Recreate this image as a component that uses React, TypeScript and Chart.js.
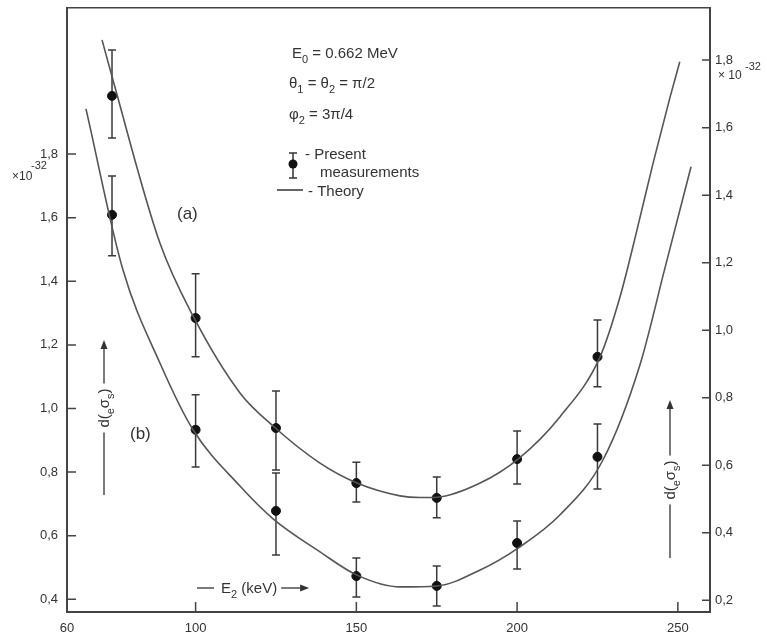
import React, { useEffect, useRef } from "react";
import { Chart, registerables } from "chart.js";
Chart.register(...registerables);

// ---- data ----
const xTicks = [60, 100, 150, 200, 250];
const leftTicks = [0.4, 0.6, 0.8, 1.0, 1.2, 1.4, 1.6, 1.8];
const rightTicks = [0.2, 0.4, 0.6, 0.8, 1.0, 1.2, 1.4, 1.6, 1.8];

const energies = [74, 100, 125, 150, 175, 200, 225];
// curve (a) – right-hand axis
const measA = [1.694, 1.036, 0.71, 0.547, 0.503, 0.618, 0.921];
const errHiA = [1.83, 1.167, 0.82, 0.609, 0.565, 0.701, 1.03];
const errLoA = [1.569, 0.921, 0.586, 0.491, 0.444, 0.544, 0.832];
// curve (b) – left-hand axis
const measB = [1.609, 0.933, 0.678, 0.473, 0.442, 0.577, 0.848];
const errHiB = [1.731, 1.043, 0.797, 0.53, 0.505, 0.646, 0.951];
const errLoB = [1.48, 0.816, 0.539, 0.407, 0.379, 0.495, 0.747];

// theory curves
const theoryAE = [70.9, 74.3, 88.9, 99.2, 113.8, 124.1, 138.7, 150.2, 163.6, 169.8, 175.1, 188.5, 200.3, 213.3, 225.8, 232.0, 237.3, 242.3, 247.6, 250.6];
const theoryAV = [1.86, 1.741, 1.258, 1.042, 0.814, 0.716, 0.606, 0.547, 0.509, 0.504, 0.505, 0.547, 0.618, 0.743, 0.921, 1.098, 1.297, 1.495, 1.691, 1.795];
const theoryBE = [65.9, 77.4, 88.9, 99.2, 113.8, 124.1, 138.7, 150.2, 163.6, 175.1, 188.5, 200.3, 213.3, 226.7, 238.2, 246.0, 254.1];
const theoryBV = [1.942, 1.436, 1.143, 0.933, 0.756, 0.653, 0.549, 0.476, 0.439, 0.442, 0.492, 0.561, 0.665, 0.838, 1.137, 1.442, 1.76];

const FONT = '"Liberation Sans", "DejaVu Sans", sans-serif';
const INK = "#333";

type Part = [string, number]; // 0 normal, 1 subscript, 2 superscript
function richWidth(ctx: CanvasRenderingContext2D, parts: Part[], size: number) {
  let w = 0;
  for (const [t, k] of parts) {
    ctx.font = `${k ? Math.round(size * 0.7) : size}px ${FONT}`;
    w += ctx.measureText(t).width;
  }
  return w;
}
function rich(ctx: CanvasRenderingContext2D, parts: Part[], x: number, y: number, size: number) {
  ctx.textAlign = "left";
  ctx.textBaseline = "alphabetic";
  let cx = x;
  for (const [t, k] of parts) {
    ctx.font = `${k ? Math.round(size * 0.7) : size}px ${FONT}`;
    const dy = k === 1 ? size * 0.3 : k === 2 ? -size * 0.45 : 0;
    ctx.fillText(t, cx, y + dy);
    cx += ctx.measureText(t).width;
  }
  return cx;
}
function arrowHead(ctx: CanvasRenderingContext2D, x: number, y: number, dir: "up" | "right") {
  ctx.beginPath();
  if (dir === "up") {
    ctx.moveTo(x, y);
    ctx.lineTo(x - 3.5, y + 9);
    ctx.lineTo(x + 3.5, y + 9);
  } else {
    ctx.moveTo(x, y);
    ctx.lineTo(x - 9, y - 3.5);
    ctx.lineTo(x - 9, y + 3.5);
  }
  ctx.closePath();
  ctx.fill();
}

const overlay = {
  id: "overlay",
  beforeDraw(chart: any) {
    const ctx = chart.ctx;
    ctx.save();
    ctx.fillStyle = "#fff";
    ctx.fillRect(0, 0, chart.width, chart.height);
    ctx.restore();
  },
  beforeDatasetsDraw(chart: any) {
    const ctx: CanvasRenderingContext2D = chart.ctx;
    const xs = chart.scales.x, yL = chart.scales.y, yR = chart.scales.y1;
    ctx.save();
    ctx.strokeStyle = "#3a3a3a";
    ctx.lineWidth = 1.5;
    const bar = (px: number, y1: number, y2: number) => {
      ctx.beginPath();
      ctx.moveTo(px, y1); ctx.lineTo(px, y2);
      ctx.moveTo(px - 4, y1); ctx.lineTo(px + 4, y1);
      ctx.moveTo(px - 4, y2); ctx.lineTo(px + 4, y2);
      ctx.stroke();
    };
    energies.forEach((e, i) => {
      const px = xs.getPixelForValue(e);
      bar(px, yR.getPixelForValue(errHiA[i]), yR.getPixelForValue(errLoA[i]));
      bar(px, yL.getPixelForValue(errHiB[i]), yL.getPixelForValue(errLoB[i]));
    });
    ctx.restore();
  },
  afterDraw(chart: any) {
    const ctx: CanvasRenderingContext2D = chart.ctx;
    const { left, right, top, bottom } = chart.chartArea;
    const xs = chart.scales.x, yL = chart.scales.y, yR = chart.scales.y1;
    ctx.save();
    ctx.strokeStyle = "#444";
    ctx.lineWidth = 1.5;
    // top frame line
    ctx.beginPath();
    ctx.moveTo(left, top); ctx.lineTo(right, top);
    ctx.stroke();
    // inward ticks
    ctx.beginPath();
    leftTicks.forEach(v => { const p = yL.getPixelForValue(v); ctx.moveTo(left, p); ctx.lineTo(left + 9, p); });
    rightTicks.forEach(v => { const p = yR.getPixelForValue(v); ctx.moveTo(right, p); ctx.lineTo(right - 8, p); });
    xTicks.slice(1).forEach(v => { const p = xs.getPixelForValue(v); ctx.moveTo(p, bottom); ctx.lineTo(p, bottom - 10); });
    ctx.stroke();

    ctx.fillStyle = INK;
    ctx.strokeStyle = INK;
    // multipliers
    rich(ctx, [["×10", 0]], 12, 180, 12);
    rich(ctx, [["-32", 0]], 31, 169, 11);
    rich(ctx, [["× 10", 0]], 718, 79, 12);
    rich(ctx, [["-32", 0]], 745, 70, 11);

    // legend block
    rich(ctx, [["E", 0], ["0", 1], [" = 0.662 MeV", 0]], 292, 58, 15);
    rich(ctx, [["θ", 0], ["1", 1], [" = θ", 0], ["2", 1], [" = π/2", 0]], 289, 88, 15);
    rich(ctx, [["φ", 0], ["2", 1], [" = 3π/4", 0]], 289, 119, 15);
    // error bar symbol
    ctx.lineWidth = 1.5;
    ctx.beginPath();
    ctx.moveTo(293, 153); ctx.lineTo(293, 178);
    ctx.moveTo(289, 153); ctx.lineTo(297, 153);
    ctx.moveTo(289, 178); ctx.lineTo(297, 178);
    ctx.stroke();
    ctx.beginPath(); ctx.arc(293, 164, 4.5, 0, Math.PI * 2); ctx.fillStyle = "#111"; ctx.fill();
    ctx.fillStyle = INK;
    rich(ctx, [["- Present", 0]], 305, 159, 15);
    rich(ctx, [["measurements", 0]], 320, 177, 15);
    ctx.beginPath(); ctx.moveTo(277, 190); ctx.lineTo(303, 190); ctx.stroke();
    rich(ctx, [["- Theory", 0]], 308, 196, 15);

    // curve labels
    rich(ctx, [["(a)", 0]], 177, 219, 17);
    rich(ctx, [["(b)", 0]], 130, 439, 17);

    // x-axis title
    ctx.lineWidth = 1.3;
    ctx.beginPath(); ctx.moveTo(197, 588); ctx.lineTo(214, 588); ctx.stroke();
    const ex = rich(ctx, [["E", 0], ["2", 1], [" (keV)", 0]], 221, 593, 15);
    ctx.beginPath(); ctx.moveTo(ex + 4, 588); ctx.lineTo(ex + 28, 588); ctx.stroke();
    arrowHead(ctx, ex + 32, 588, "right");

    // vertical titles
    const vTitle = (cx: number, yTip: number, yTextC: number, yBottom: number) => {
      const parts: Part[] = [["d(", 0], ["e", 1], ["σ", 0], ["s", 1], [")", 0]];
      const w = richWidth(ctx, parts, 15);
      ctx.save();
      ctx.translate(cx, yTextC);
      ctx.rotate(-Math.PI / 2);
      rich(ctx, parts, -w / 2, 5, 15);
      ctx.restore();
      ctx.beginPath();
      ctx.moveTo(cx, yTextC + w / 2 + 5); ctx.lineTo(cx, yBottom);
      ctx.moveTo(cx, yTextC - w / 2 - 5); ctx.lineTo(cx, yTip + 6);
      ctx.stroke();
      arrowHead(ctx, cx, yTip, "up");
    };
    vTitle(104, 340, 408, 495);
    vTitle(670, 400, 480, 558);
    ctx.restore();
  },
};

export default function App() {
  const ref = useRef<HTMLCanvasElement | null>(null);
  useEffect(() => {
    document.body.style.margin = "0";
    const canvas = ref.current!;
    const tickFont = { family: FONT, size: 13 };
    const chart = new Chart(canvas, {
      type: "scatter",
      data: {
        datasets: [
          {
            label: "Theory (a)",
            data: theoryAE.map((e, i) => ({ x: e, y: theoryAV[i] })),
            yAxisID: "y1",
            showLine: true,
            borderColor: "#555",
            borderWidth: 1.6,
            pointRadius: 0,
            cubicInterpolationMode: "monotone",
          },
          {
            label: "Theory (b)",
            data: theoryBE.map((e, i) => ({ x: e, y: theoryBV[i] })),
            yAxisID: "y",
            showLine: true,
            borderColor: "#555",
            borderWidth: 1.6,
            pointRadius: 0,
            cubicInterpolationMode: "monotone",
          },
          {
            label: "Present measurements (a)",
            data: energies.map((e, i) => ({ x: e, y: measA[i] })),
            yAxisID: "y1",
            pointRadius: 4.5,
            backgroundColor: "#111",
            borderColor: "#111",
          },
          {
            label: "Present measurements (b)",
            data: energies.map((e, i) => ({ x: e, y: measB[i] })),
            yAxisID: "y",
            pointRadius: 4.5,
            backgroundColor: "#111",
            borderColor: "#111",
          },
        ],
      },
      options: {
        animation: false,
        responsive: false,
        layout: { padding: { top: 0, left: 0, right: 0, bottom: 0 } },
        plugins: { legend: { display: false }, tooltip: { enabled: false } },
        scales: {
          x: {
            type: "linear",
            min: 60,
            max: 260,
            afterBuildTicks: (s: any) => { s.ticks = xTicks.map(v => ({ value: v })); },
            afterFit: (s: any) => { s.height = 27; },
            grid: { display: false, drawTicks: true, tickLength: 9 },
            border: { display: true, color: "#444", width: 2 },
            ticks: { font: tickFont, color: INK, padding: 0, callback: (v: any) => String(v) },
          },
          y: {
            type: "linear",
            position: "left",
            min: 0.36,
            max: 2.26,
            afterBuildTicks: (s: any) => { s.ticks = leftTicks.map(v => ({ value: v })); },
            afterFit: (s: any) => { s.width = 67; },
            grid: { display: false, drawTicks: true, tickLength: 9 },
            border: { display: true, color: "#444", width: 2 },
            ticks: { font: tickFont, color: INK, padding: 0, callback: (v: any) => Number(v).toFixed(1).replace(".", ",") },
          },
          y1: {
            type: "linear",
            position: "right",
            min: 0.165,
            max: 1.955,
            afterBuildTicks: (s: any) => { s.ticks = rightTicks.map(v => ({ value: v })); },
            afterFit: (s: any) => { s.width = 57; },
            grid: { display: false, drawTicks: true, tickLength: 5 },
            border: { display: true, color: "#444", width: 2 },
            ticks: { font: tickFont, color: INK, padding: 0, callback: (v: any) => Number(v).toFixed(1).replace(".", ",") },
          },
        },
      },
      plugins: [overlay],
    } as any);
    return () => chart.destroy();
  }, []);
  return <canvas ref={ref} width={767} height={639} style={{ display: "block" }} />;
}
